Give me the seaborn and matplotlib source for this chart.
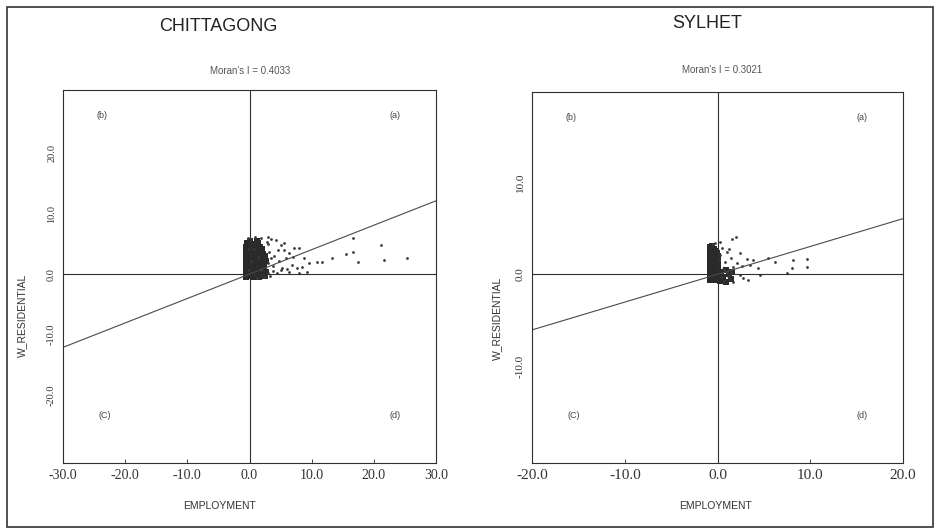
import numpy as np
import pandas as pd
import matplotlib.pyplot as plt
import seaborn as sns
from matplotlib.patches import Rectangle

# ============================== DATA ==============================
regions = ['CHITTAGONG', 'SYLHET']
morans_i = [0.4033, 0.3021]
x_ticks_chi = [-30.0, -20.0, -10.0, 0.0, 10.0, 20.0, 30.0]
y_ticks_chi = [-20.0, -10.0, 0.0, 10.0, 20.0]
x_ticks_syl = [-20.0, -10.0, 0.0, 10.0, 20.0]
y_ticks_syl = [-10.0, 0.0, 10.0]
quadrants = ['(a)', '(b)', '(C)', '(d)']

# (EMPLOYMENT, W_RESIDENTIAL)
# dense block of observations next to the origin
chittagong_core = [
    (-0.5, -0.4), (-0.5, 0.3), (-0.5, 1.0), (-0.5, 1.7), (-0.5, 2.4), (-0.5, 3.1), (-0.5, 3.8), (-0.5, 4.5), (-0.4, 5.2),
    (0.0, -0.3), (0.1, 0.4), (0.0, 1.1), (0.1, 1.8), (0.0, 2.5), (0.1, 3.2), (0.0, 3.9), (0.1, 4.6), (0.0, 5.4),
    (0.5, -0.4), (0.6, 0.3), (0.5, 1.0), (0.6, 1.7), (0.5, 2.4), (0.6, 3.1), (0.5, 3.8), (0.6, 4.5), (0.5, 5.0),
    (1.0, -0.3), (1.1, 0.4), (1.0, 1.1), (1.1, 1.8), (1.0, 2.5), (1.1, 3.2), (1.0, 3.9), (1.1, 4.7), (1.2, 5.5),
    (1.5, -0.4), (1.6, 0.3), (1.5, 1.0), (1.6, 1.7), (1.5, 2.4), (1.6, 3.1), (1.5, 3.8), (1.7, 4.4),
    (2.0, -0.2), (2.1, 0.5), (2.0, 1.2), (2.1, 1.9), (2.0, 2.6), (2.2, 3.3), (2.0, 4.2),
    (2.5, -0.3), (2.6, 0.4), (2.4, 1.3), (2.7, 2.2), (2.5, 3.0),
    (-0.25, 0.0), (-0.25, 1.4), (-0.25, 2.8), (-0.25, 3.5), (-0.25, 4.9),
    (0.25, -0.1), (0.25, 0.7), (0.25, 1.4), (0.25, 2.9), (0.25, 3.6), (0.25, 4.3),
    (0.75, 0.7), (0.75, 1.4), (0.75, 2.1), (0.75, 2.8), (0.75, 3.5), (0.75, 4.9),
    (1.25, 0.0), (1.25, 0.7), (1.25, 1.4), (1.25, 2.1), (1.25, 3.5), (1.4, 5.1),
    (1.75, 0.0), (1.75, 1.4), (1.75, 2.1), (1.75, 2.8), (2.25, 0.9), (2.25, 1.6),
]
chittagong_spread = [
    (-0.2, 0.7), (0.3, 2.1), (0.8, 0.0), (1.3, 2.8), (-0.3, 4.2), (0.8, 4.2), (1.8, 0.7), (0.3, 5.8),
    (3.0, 0.2), (3.5, 2.6), (4.5, 0.2), (4.3, 5.6), (5.1, 4.8), (5.6, 4.0), (6.4, 3.5), (6.4, 0.3),
    (6.9, 1.5), (7.2, 4.3), (7.6, 1.0), (8.0, 4.3), (8.4, 1.2), (8.8, 2.6), (9.2, 0.3), (9.6, 1.8),
    (10.9, 2.0), (11.6, 2.0), (13.3, 2.6), (15.6, 3.3), (16.6, 3.6), (16.6, 5.9), (17.4, 2.0),
    (21.2, 4.8), (21.7, 2.3), (25.4, 2.6),
    (2.9, 4.9), (3.2, 3.6), (3.8, 1.4), (4.0, 3.0), (4.8, 2.1), (5.3, 1.0), (3.4, 5.8), (2.8, 5.3),
    (5.9, 2.6), (4.6, 4.0), (3.0, 1.8), (3.7, 0.5), (5.0, 0.6), (6.0, 0.8), (7.0, 2.8), (2.9, 6.2),
    (1.8, 6.0), (0.9, 6.1), (-0.3, 5.9), (5.5, 5.2), (1.2, -0.6), (2.3, -0.5), (3.3, -0.3), (8.0, 0.1),
]

sylhet_core = [
    (-0.8, -0.6), (-0.8, -0.15), (-0.8, 0.3), (-0.8, 0.75), (-0.8, 1.2), (-0.8, 1.65), (-0.8, 2.1), (-0.8, 2.55), (-0.8, 3.0),
    (-0.5, -0.6), (-0.5, -0.15), (-0.5, 0.3), (-0.5, 0.75), (-0.5, 1.2), (-0.5, 1.65), (-0.5, 2.1), (-0.5, 2.55), (-0.6, 3.1),
    (-0.2, -0.6), (-0.2, -0.15), (-0.2, 0.3), (-0.2, 0.75), (-0.2, 1.2), (-0.2, 1.65), (-0.2, 2.1), (-0.2, 2.55),
    (0.0, -0.5), (0.0, 0.0), (0.0, 0.5), (0.0, 1.0), (0.0, 1.5), (0.0, 2.0),
    (-0.65, -0.4), (-0.65, 0.5), (-0.65, 1.0), (-0.65, 1.4), (-0.65, 1.9), (-0.65, 2.3), (-0.65, 2.8),
    (-0.35, -0.4), (-0.35, 0.1), (-0.35, 0.5), (-0.35, 1.0), (-0.35, 1.4), (-0.35, 1.9), (-0.35, 2.3), (-0.35, 2.8),
    (-0.1, 0.2), (-0.1, 1.4), (-0.1, 2.3),
    (0.3, -0.7), (0.6, -0.4), (0.9, -0.8), (1.2, 0.0), (0.4, 0.3), (0.9, 0.5), (1.4, -0.5), (1.6, 0.2),
]
sylhet_spread = [
    (1.6, 3.8), (2.0, 4.0), (0.3, 3.5), (2.4, 2.3), (3.2, 1.7), (3.8, 1.5), (5.4, 1.8), (6.2, 1.3),
    (8.1, 1.6), (9.6, 1.7), (8.0, 0.7), (9.6, 0.8), (7.5, 0.1), (2.8, -0.4), (3.3, -0.6), (1.3, -0.6),
    (1.7, -0.8), (2.4, -0.1), (1.0, 0.2), (0.6, 0.6), (1.7, 0.8), (2.1, 1.2), (0.8, 1.3), (0.3, 2.1),
    (1.0, 2.4), (1.2, 2.8), (0.5, 2.9), (3.5, 1.0), (4.4, 0.7), (4.6, -0.1), (0.4, -0.3), (0.7, -0.7),
    (1.1, -0.2), (1.5, 0.3), (0.5, 0.1), (-0.3, 3.4), (-0.5, 3.3), (0.2, 1.5), (1.4, 1.8), (2.6, 0.9),
]

serif = 'Liberation Serif'
sans = 'Liberation Sans'
ink = '#2e2e2e'

sns.set_style('white')
plt.rcParams['font.family'] = [sans, 'DejaVu Sans']

fig = plt.figure(figsize=(9.35, 5.3), dpi=100)
fig.patch.set_facecolor('white')
fig.patches.append(Rectangle((0.007, 0.006), 0.991, 0.981, transform=fig.transFigure,
                             fill=False, edgecolor='#333333', linewidth=1.2))

panels = [
    dict(pos=[0.0674, 0.1264, 0.3989, 0.7038], core=chittagong_core, spread=chittagong_spread,
         xlim=(-30, 30), ylim=(-31.2, 30.4), xt=x_ticks_chi, yt=y_ticks_chi, xfs=10, yfs=7.5,
         title_xy=(0.233, 0.95), moran_xy=(0.267, 0.866), xl_xy=(0.235, 0.045), yl_xy=(0.024, 0.405)),
    dict(pos=[0.569, 0.1264, 0.3968, 0.7000], core=sylhet_core, spread=sylhet_spread,
         xlim=(-20, 20), ylim=(-20.5, 19.8), xt=x_ticks_syl, yt=y_ticks_syl, xfs=11, yfs=8,
         title_xy=(0.756, 0.955), moran_xy=(0.772, 0.868), xl_xy=(0.765, 0.045), yl_xy=(0.532, 0.4)),
]

for k, p in enumerate(panels):
    ax = fig.add_axes(p['pos'])
    core = pd.DataFrame(p['core'], columns=['EMPLOYMENT', 'W_RESIDENTIAL'])
    spread = pd.DataFrame(p['spread'], columns=['EMPLOYMENT', 'W_RESIDENTIAL'])
    sns.scatterplot(data=core, x='EMPLOYMENT', y='W_RESIDENTIAL', ax=ax, s=13, marker='s',
                    color='#2a2a2a', linewidth=0, legend=False)
    sns.scatterplot(data=spread, x='EMPLOYMENT', y='W_RESIDENTIAL', ax=ax, s=4,
                    color='#3a3a3a', linewidth=0, legend=False)

    # quadrant lines and Moran regression line
    ax.axhline(0, color=ink, lw=0.8)
    ax.axvline(0, color=ink, lw=0.8)
    xs = np.array(p['xlim'], dtype=float)
    ax.plot(xs, morans_i[k] * xs, color='#4a4a4a', lw=0.8)

    ax.set_xlim(*p['xlim'])
    ax.set_ylim(*p['ylim'])
    ax.set_xticks(p['xt'])
    ax.set_yticks(p['yt'])
    ax.set_xticklabels([f'{v:.1f}' for v in p['xt']], fontfamily=serif, fontsize=p['xfs'], color='#333333')
    ax.set_yticklabels([f'{v:.1f}' for v in p['yt']], fontfamily=serif, fontsize=p['yfs'],
                       color='#333333', rotation=90, va='center')
    ax.tick_params(axis='both', direction='in', length=3, width=0.7, colors='#444444',
                   bottom=True, left=False, pad=4)
    ax.tick_params(axis='x', labelcolor='#333333')
    ax.tick_params(axis='y', labelcolor='#333333', pad=5)
    ax.set_xlabel('')
    ax.set_ylabel('')
    for sp in ax.spines.values():
        sp.set_color(ink)
        sp.set_linewidth(0.8)

    # quadrant tags
    ax.text(0.09, 0.925, quadrants[1], transform=ax.transAxes, fontsize=6.5, color='#444444')
    ax.text(0.875, 0.925, quadrants[0], transform=ax.transAxes, fontsize=6.5, color='#444444')
    ax.text(0.095, 0.12, quadrants[2], transform=ax.transAxes, fontsize=6.5, color='#444444')
    ax.text(0.875, 0.12, quadrants[3], transform=ax.transAxes, fontsize=6.5, color='#444444')

    fig.text(*p['title_xy'], regions[k], ha='center', va='center', fontsize=13, color='#222222')
    fig.text(*p['moran_xy'], f"Moran's I = {morans_i[k]:.4f}", ha='center', va='center',
             fontsize=7, color='#555555')
    fig.text(*p['xl_xy'], 'EMPLOYMENT', ha='center', va='center', fontsize=7.5, color='#333333')
    fig.text(*p['yl_xy'], 'W_RESIDENTIAL', ha='center', va='center', rotation=90,
             fontsize=7.5, color='#333333')

fig.savefig('out.png', dpi=100, facecolor='white')
